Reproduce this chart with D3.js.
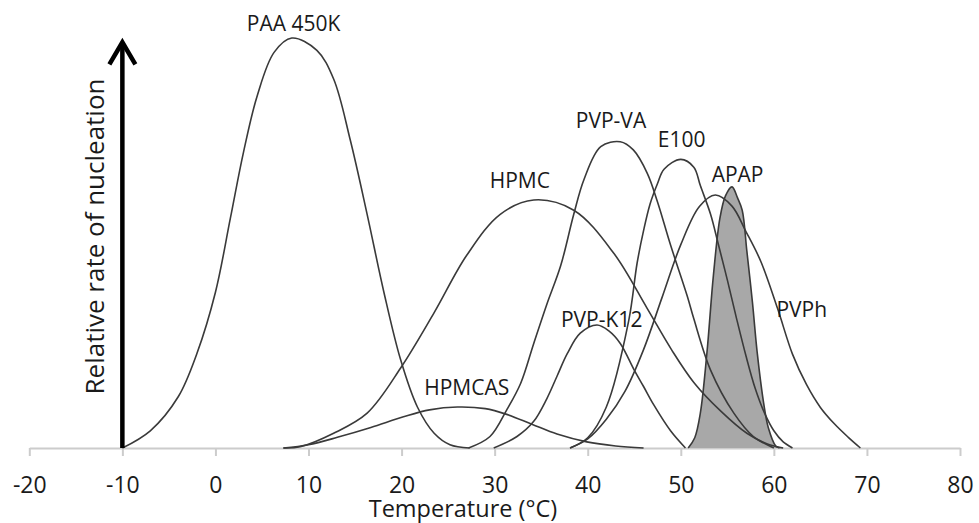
<!DOCTYPE html>
<html><head><meta charset="utf-8">
<script src="https://cdn.jsdelivr.net/npm/d3@7"></script>
<style>html,body{margin:0;padding:0;background:#fff;} svg{display:block;font-family:'Open Sans',sans-serif;}</style>
</head><body><svg id="chart" width="979" height="523"></svg>
<script>
// ---- data: [temperature °C, relative rate of nucleation (PAA 450K peak = 100)] ----
const xTicks = [-20, -10, 0, 10, 20, 30, 40, 50, 60, 70, 80];
const xTitle = "Temperature (°C)";
const yTitle = "Relative rate of nucleation";

const paa450k = [[-10,0],[-7,4.2],[-4,12.5],[-2,23],[0,38],[1.6,56],[3,72],[4.5,86],[6.3,96.5],[8.2,100],[10.9,97],[12.7,90],[14.5,75],[16.3,57],[18.1,38],[19.9,21.5],[21.7,10],[23.5,3.6],[25.2,0.8],[27.3,0]];
const hpmcas = [[7.3,0],[10,0.8],[13.1,2.6],[16.7,5],[20.2,7.6],[23,9.3],[26,10],[29,9.6],[31.3,8.2],[34,5.8],[36.7,3.4],[39.9,1.5],[43,0.5],[46,0]];
const hpmc = [[7.3,0],[9.1,0.3],[12.7,3.6],[16.3,8.5],[19.9,19.5],[23.5,33],[27,47],[30.6,57],[34.2,60.5],[38.5,58],[42.8,47.5],[46.4,34],[49,24],[51.4,16],[54.3,9],[57.1,3.6],[59.3,1],[61,0]];
const pvpVA = [[27.2,0],[29.5,2.8],[31.3,9.3],[32.8,15.8],[34.2,25.5],[35.6,35],[37.1,44.5],[38.5,57],[39.6,65.5],[41.4,73.5],[43.5,74.7],[44.9,72.7],[46.4,67],[47.5,60],[48.9,49.5],[50.7,37],[51.4,31.5],[53.2,19],[55.7,8.5],[57.8,2.8],[60,0]];
const pvpK12 = [[29.9,0],[32.4,2.8],[34.2,6.5],[35.6,12],[36.7,17.5],[37.8,23],[39.2,28],[41,30],[42.3,28.5],[43.5,25.5],[45,19],[46,15],[47.1,10.5],[48.9,4.2],[50.5,0]];
const e100 = [[38.1,0],[40,2.5],[42,10],[44.4,31],[45.3,45],[46,53],[46.7,59.5],[47.5,64.5],[48.2,68],[50,70.4],[51.4,68.5],[52.1,64],[53.2,57],[54,50],[55,41],[56,31.5],[57,22.5],[58,14.5],[59,8.5],[60,4.2],[61,1.5],[62,0]];
const pvph = [[38.1,0],[40,2.2],[42,7],[44,13.8],[46,24],[48,36.8],[50,49.6],[52,58.9],[53.7,61.7],[55.5,59],[57,52.8],[58.6,45.5],[60.4,34],[62,22.9],[63.5,15.5],[65,9.9],[66.5,5.9],[68,2.6],[69.3,0]];
const apap = [[50.8,0],[51.5,2.5],[52.1,8.5],[52.8,23],[53.5,42],[54.2,56],[54.8,61.5],[55.5,63.7],[56.1,61],[56.6,58],[57.1,48],[57.7,35.5],[58.2,23.5],[58.9,11],[59.4,5],[60.2,0.5],[60.6,0]];

const seriesNames = ["PAA 450K", "HPMCAS", "HPMC", "PVP-VA", "PVP-K12", "E100", "PVPh", "APAP"];
const seriesData  = [paa450k, hpmcas, hpmc, pvpVA, pvpK12, e100, pvph, apap];
// label anchor in data units [temperature, rate]
const labelAt = [[8.4,101.7],[27.0,12.9],[32.7,63.4],[42.5,78],[41.5,29.6],[50.1,73.5],[63.0,32],[56.1,65]];
const arrowTop = 99.2;

// ---- chart ----
const svg = d3.select('#chart');
const x = d3.scaleLinear().domain([-20, 80]).range([29.3, 960]);
const y = d3.scaleLinear().domain([0, 100]).range([448, 38]);
const curve = d3.curveCatmullRom.alpha(0.5);
const line = d3.line().x(d => x(d[0])).y(d => Math.min(y(0), y(d[1]))).curve(curve);
const area = d3.area().x(d => x(d[0])).y0(y(0)).y1(d => y(d[1])).curve(curve);

// axis
const axis = d3.axisBottom(x).tickValues(xTicks).tickSize(8).tickSizeOuter(0).tickFormat(d => String(d));
const gA = svg.append('g').attr('transform', `translate(0,${y(0)})`).call(axis)
  .attr('font-family', "'Open Sans', sans-serif").attr('font-size', 23);
gA.select('.domain').attr('stroke', '#cccccc').attr('stroke-width', 2);
gA.selectAll('.tick line').attr('stroke', '#cccccc').attr('stroke-width', 2);
gA.selectAll('.tick text').attr('y', 45).attr('dy', 0).attr('fill', '#1a1a1a');

svg.append('text').attr('x', 463).attr('y', 517).attr('text-anchor', 'middle')
  .attr('font-size', 23.5).attr('fill', '#1a1a1a').text(xTitle);

// APAP fill
svg.append('path').datum(apap).attr('d', area).attr('fill', '#a8a8a8').attr('stroke', 'none');

// curves
svg.append('g').selectAll('path').data(seriesData).join('path')
  .attr('d', line).attr('fill', 'none').attr('stroke', '#3a3a3a').attr('stroke-width', 1.6);

// vertical arrow
svg.append('line').attr('x1', x(-10)).attr('x2', x(-10)).attr('y1', y(0)).attr('y2', y(arrowTop) + 2)
  .attr('stroke', '#000').attr('stroke-width', 4.5);
svg.append('path')
  .attr('d', `M${x(-10) - 13},${y(arrowTop) + 23}L${x(-10)},${y(arrowTop) + 1}L${x(-10) + 13},${y(arrowTop) + 23}`)
  .attr('fill', 'none').attr('stroke', '#000').attr('stroke-width', 4.5).attr('stroke-linejoin', 'miter');

svg.append('text').attr('transform', `translate(104,236.5) rotate(-90)`).attr('text-anchor', 'middle')
  .attr('font-size', 26).attr('fill', '#1a1a1a').text(yTitle);

// series labels
svg.append('g').selectAll('text').data(seriesNames).join('text')
  .attr('x', (d, i) => x(labelAt[i][0])).attr('y', (d, i) => y(labelAt[i][1]))
  .attr('text-anchor', 'middle').attr('font-size', 21).attr('fill', '#1a1a1a').text(d => d);
</script></body></html>
